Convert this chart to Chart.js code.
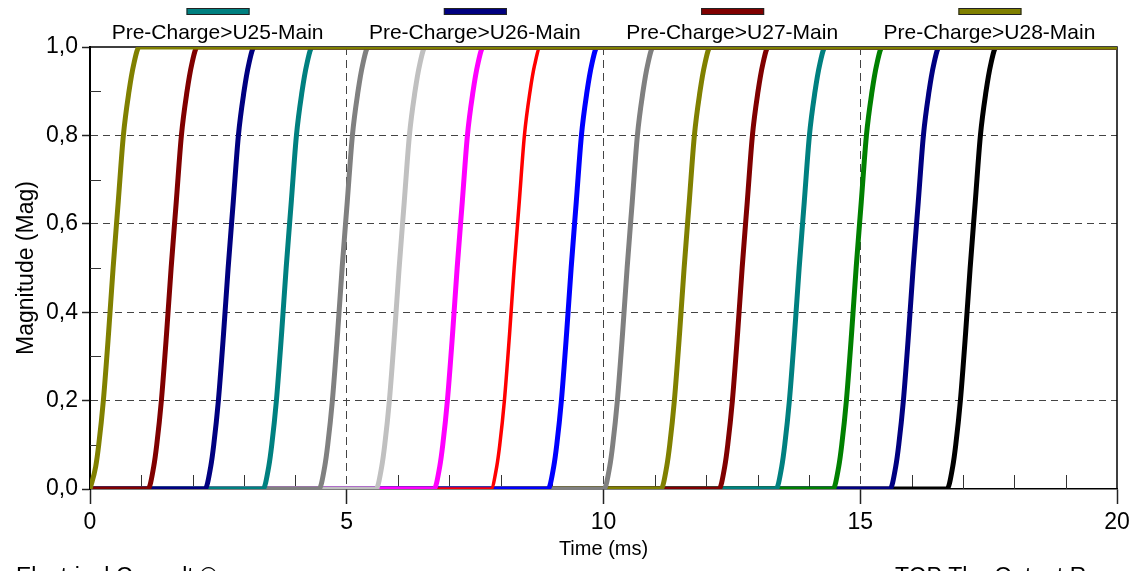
<!DOCTYPE html>
<html>
<head>
<meta charset="utf-8">
<script src="https://cdn.jsdelivr.net/npm/chart.js@4.4.1/dist/chart.umd.min.js"></script>
<style>
html,body{margin:0;padding:0;background:#fff;overflow:hidden;}
#wrap{width:1135px;height:571px;position:relative;}
</style>
</head>
<body>
<div id="wrap"><canvas id="c" width="1135" height="571"></canvas></div>
<script>
// ---------- data ----------
const seriesNames = ['Trace 1','Trace 2','Trace 3','Trace 4','Trace 5','Trace 6','Trace 7','Trace 8',
  'Trace 9','Trace 10','Trace 11','Trace 12','Trace 13','Trace 14','Trace 15','Trace 16'];
const seriesColors = ['#808000','#800000','#000080','#008080','#808080','#C0C0C0','#FF00FF','#FF0000',
  '#0000FF','#808080','#808000','#800000','#008080','#008000','#000080','#000000'];
const seriesWidths = [5,5,5,5,5,5,5,3.5,5,5,5,5,5,5,5,5];

// magnitude values along each rising edge
const rampMagnitude = [0, 0.05, 0.1, 0.2, 0.35, 0.5, 0.65, 0.8, 0.9, 0.96, 1.0];

// time (ms) at which each trace reaches the magnitudes above
const t01 = [0.00, 0.11, 0.17, 0.26, 0.36, 0.45, 0.55, 0.65, 0.76, 0.85, 0.96];
const t02 = [1.13, 1.24, 1.30, 1.39, 1.49, 1.58, 1.68, 1.78, 1.89, 1.98, 2.09];
const t03 = [2.24, 2.35, 2.41, 2.50, 2.60, 2.69, 2.79, 2.89, 3.00, 3.09, 3.20];
const t04 = [3.37, 3.48, 3.54, 3.63, 3.73, 3.82, 3.92, 4.02, 4.13, 4.22, 4.33];
const t05 = [4.46, 4.57, 4.63, 4.72, 4.82, 4.91, 5.01, 5.11, 5.22, 5.31, 5.42];
const t06 = [5.57, 5.68, 5.74, 5.83, 5.93, 6.02, 6.12, 6.22, 6.33, 6.42, 6.53];
const t07 = [6.70, 6.81, 6.87, 6.96, 7.06, 7.15, 7.25, 7.35, 7.46, 7.55, 7.66];
const t08 = [7.81, 7.92, 7.98, 8.07, 8.17, 8.26, 8.36, 8.46, 8.57, 8.66, 8.77];
const t09 = [8.92, 9.03, 9.09, 9.18, 9.28, 9.37, 9.47, 9.57, 9.68, 9.77, 9.88];
const t10 = [10.01, 10.12, 10.18, 10.27, 10.37, 10.46, 10.56, 10.66, 10.77, 10.86, 10.97];
const t11 = [11.12, 11.23, 11.29, 11.38, 11.48, 11.57, 11.67, 11.77, 11.88, 11.97, 12.08];
const t12 = [12.25, 12.36, 12.42, 12.51, 12.61, 12.70, 12.80, 12.90, 13.01, 13.10, 13.21];
const t13 = [13.36, 13.47, 13.53, 13.62, 13.72, 13.81, 13.91, 14.01, 14.12, 14.21, 14.32];
const t14 = [14.47, 14.58, 14.64, 14.73, 14.83, 14.92, 15.02, 15.12, 15.23, 15.32, 15.43];
const t15 = [15.58, 15.69, 15.75, 15.84, 15.94, 16.03, 16.13, 16.23, 16.34, 16.43, 16.54];
const t16 = [16.69, 16.80, 16.86, 16.95, 17.05, 17.14, 17.24, 17.34, 17.45, 17.54, 17.65];
const seriesTimes = [t01,t02,t03,t04,t05,t06,t07,t08,t09,t10,t11,t12,t13,t14,t15,t16];

const xMin = 0, xMax = 20, xStep = 5;
const yMin = 0, yMax = 1, yStep = 0.2;
const xMinorTicks = [1,2,3,4,6,7,8,9,11,12,13,14,16,17,18,19];
const yMinorTicks = [0.1,0.3,0.5,0.7,0.9];

const legendLabels = ['Pre-Charge>U25-Main','Pre-Charge>U26-Main','Pre-Charge>U27-Main','Pre-Charge>U28-Main'];
const legendColors = ['#008080','#000080','#800000','#808000'];

const xTitle = 'Time (ms)';
const yTitle = 'Magnitude (Mag)';
const footerLeft = 'Electrical Consult \u00A9';
const footerRight = 'TOP The Output R';

// ---------- chart ----------
const FONT = "'Liberation Sans', Arial, Helvetica, sans-serif";

const datasets = seriesTimes.map((times, i) => {
  const pts = [];
  if (times[0] > xMin) pts.push({x: xMin, y: rampMagnitude[0]});
  times.forEach((t, k) => pts.push({x: t, y: rampMagnitude[k]}));
  pts.push({x: xMax, y: rampMagnitude[rampMagnitude.length - 1]});
  return {
    label: seriesNames[i],
    data: pts,
    borderColor: seriesColors[i],
    backgroundColor: seriesColors[i],
    borderWidth: seriesWidths[i],
    pointRadius: 0,
    fill: false,
    cubicInterpolationMode: 'monotone',
    borderJoinStyle: 'round'
  };
});

const decorPlugin = {
  id: 'decor',
  beforeDatasetsDraw(chart) {
    const {ctx, chartArea: a, scales} = chart;
    ctx.save();
    // minor ticks (inside)
    ctx.strokeStyle = '#333';
    ctx.lineWidth = 1;
    ctx.beginPath();
    xMinorTicks.forEach(v => {
      const px = Math.round(scales.x.getPixelForValue(v)) + 0.5;
      ctx.moveTo(px, a.bottom);
      ctx.lineTo(px, a.bottom - 14);
    });
    yMinorTicks.forEach(v => {
      const py = Math.round(scales.y.getPixelForValue(v)) + 0.5;
      ctx.moveTo(a.left, py);
      ctx.lineTo(a.left + 11, py);
    });
    ctx.stroke();
    // frame top / right
    ctx.strokeStyle = '#000';
    ctx.lineWidth = 1.5;
    ctx.beginPath();
    ctx.moveTo(a.left, a.top);
    ctx.lineTo(a.right, a.top);
    ctx.lineTo(a.right, a.bottom);
    ctx.stroke();
    ctx.restore();
  },
  afterDraw(chart) {
    const {ctx, chartArea: a} = chart;
    ctx.save();
    // legend: swatch above label
    const cx = (a.left + a.right) / 2;
    const spacing = 257.3;
    const n = legendLabels.length;
    ctx.font = '21px ' + FONT;
    ctx.textAlign = 'center';
    ctx.textBaseline = 'alphabetic';
    legendLabels.forEach((lab, i) => {
      const c = cx + (i - (n - 1) / 2) * spacing;
      ctx.fillStyle = legendColors[i];
      ctx.fillRect(c - 31, 8, 63, 7);
      ctx.strokeStyle = '#222';
      ctx.lineWidth = 1;
      ctx.strokeRect(c - 31 + 0.5, 8.5, 62, 6);
      ctx.fillStyle = '#000';
      ctx.fillText(lab, c, 39);
    });
    // footer texts (cut by canvas bottom)
    ctx.font = '23px ' + FONT;
    ctx.textAlign = 'left';
    ctx.fillStyle = '#000';
    ctx.fillText(footerLeft, 16, 584);
    ctx.fillText(footerRight, 895, 584);
    ctx.restore();
  }
};

new Chart(document.getElementById('c'), {
  type: 'line',
  data: {datasets},
  options: {
    responsive: false,
    devicePixelRatio: 1,
    animation: false,
    parsing: true,
    layout: {padding: {top: 47, right: 18, left: 0, bottom: 0}},
    plugins: {legend: {display: false}, tooltip: {enabled: false}},
    scales: {
      x: {
        type: 'linear',
        min: xMin, max: xMax,
        afterFit(s) { s.height = 82; },
        ticks: {
          stepSize: xStep,
          color: '#000',
          padding: 5,
          maxRotation: 0,
          font: {family: FONT, size: 23}
        },
        grid: {
          color: (c) => (c.tick && c.tick.value > xMin && c.tick.value < xMax) ? '#444' : 'rgba(0,0,0,0)',
          lineWidth: 1,
          tickLength: 15,
          tickColor: '#222',
          tickWidth: 1.5
        },
        border: {display: true, color: '#000', width: 1.5, dash: [8, 5]},
        title: {
          display: true, text: xTitle, color: '#000',
          font: {family: FONT, size: 20},
          padding: {top: 0, bottom: 10}
        }
      },
      y: {
        type: 'linear',
        min: yMin, max: yMax,
        afterFit(s) { s.width = 90; },
        ticks: {
          stepSize: yStep,
          color: '#000',
          padding: 4,
          font: {family: FONT, size: 23},
          callback: (v) => Number(v).toFixed(1).replace('.', ',')
        },
        grid: {
          color: (c) => (c.tick && c.tick.value > yMin + 1e-9 && c.tick.value < yMax - 1e-9) ? '#444' : 'rgba(0,0,0,0)',
          lineWidth: 1,
          tickLength: 8,
          tickColor: '#222',
          tickWidth: 1.5
        },
        border: {display: true, color: '#000', width: 2, dash: [7, 5]},
        title: {
          display: true, text: yTitle, color: '#000',
          font: {family: FONT, size: 23},
          padding: {top: 13, bottom: 0}
        }
      }
    }
  },
  plugins: [decorPlugin]
});
</script>
</body>
</html>
